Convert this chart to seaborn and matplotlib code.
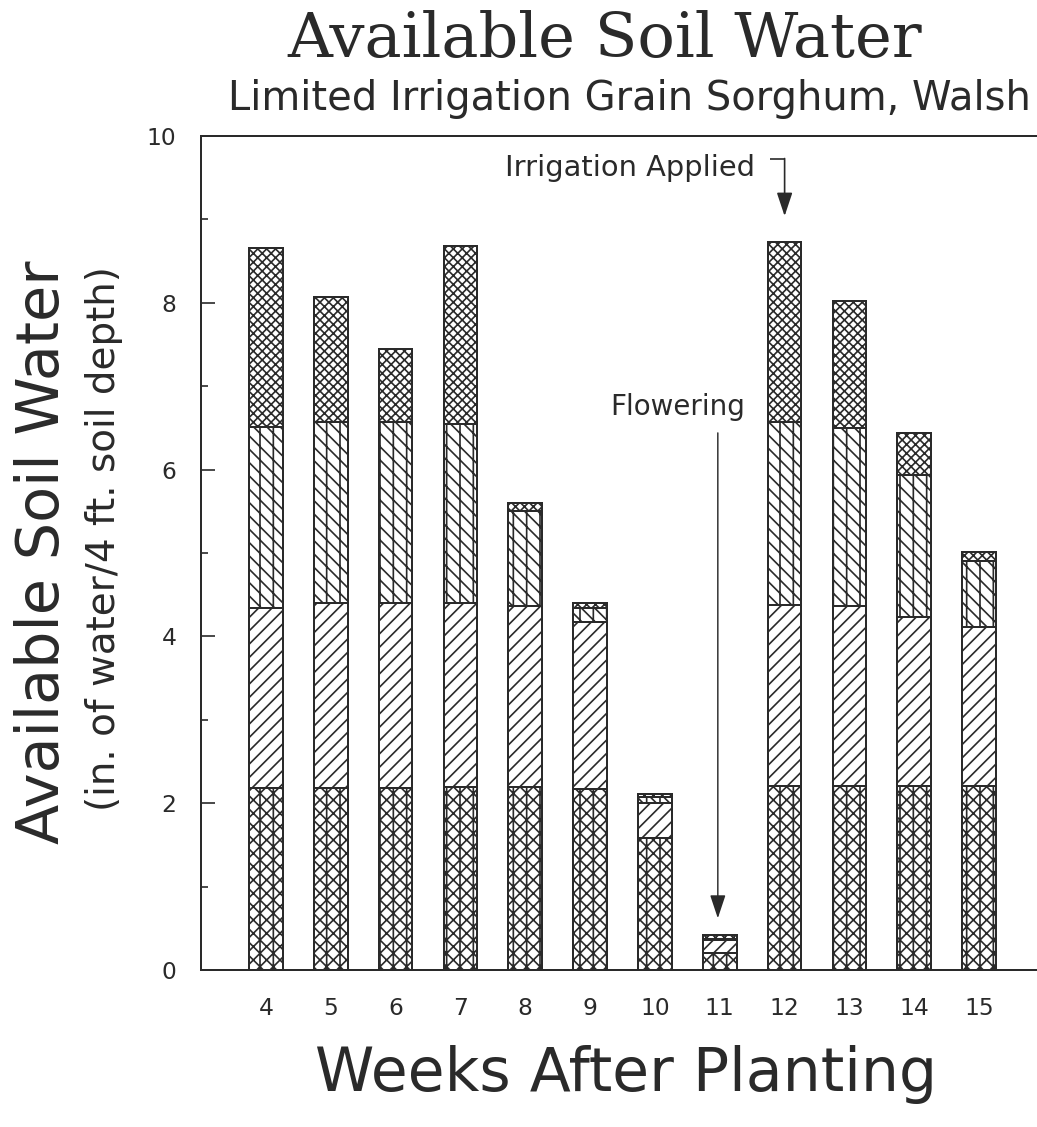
import numpy as np
import pandas as pd
import matplotlib
matplotlib.use("Agg")
import matplotlib.pyplot as plt
import seaborn as sns

# Weeks after planting and available water (inches) held in each foot of soil
weeks = [4, 5, 6, 7, 8, 9, 10, 11, 12, 13, 14, 15]
water_0_1ft = [2.18, 2.18, 2.18, 2.20, 2.20, 2.17, 1.58, 0.20, 2.21, 2.21, 2.21, 2.21]
water_1_2ft = [2.16, 2.22, 2.22, 2.20, 2.17, 2.00, 0.42, 0.16, 2.17, 2.16, 2.02, 1.90]
water_2_3ft = [2.17, 2.17, 2.17, 2.15, 1.13, 0.17, 0.07, 0.01, 2.19, 2.13, 1.71, 0.80]
water_3_4ft = [2.15, 1.50, 0.88, 2.13, 0.10, 0.06, 0.04, 0.05, 2.16, 1.52, 0.50, 0.10]

layer_names = ["0-1 ft", "1-2 ft", "2-3 ft", "3-4 ft"]
layer_hatches = ["xx|", "//", "\\\\|", "xxx"]
yticks = [0, 2, 4, 6, 8, 10]

INK = "#2a2a2a"
DPI = 80
W, H = 1037, 1127

sns.set_theme(style="white")
plt.rcParams["font.family"] = ["DejaVu Sans"]
plt.rcParams["hatch.color"] = INK
plt.rcParams["hatch.linewidth"] = 1.5
plt.rcParams["text.color"] = INK

df = pd.DataFrame({"week": weeks, "0-1 ft": water_0_1ft, "1-2 ft": water_1_2ft,
                   "2-3 ft": water_2_3ft, "3-4 ft": water_3_4ft})
cum = df[layer_names].cumsum(axis=1)

fig = plt.figure(figsize=(W / DPI, H / DPI), dpi=DPI)
fig.patch.set_facecolor("white")
ax = fig.add_axes([201 / W, 157 / H, 843 / W, 834 / H])

# Stack by drawing the cumulative totals from the deepest layer down
for name, hatch in reversed(list(zip(layer_names, layer_hatches))):
    n_before = len(ax.patches)
    sns.barplot(x=df["week"], y=cum[name], native_scale=True, width=0.52,
                color="white", saturation=1, edgecolor=INK, linewidth=1.8,
                errorbar=None, ax=ax)
    for p in ax.patches[n_before:]:
        p.set_hatch(hatch)
        p.set_edgecolor(INK)

ax.set_xlim(3.0, 16.0)
ax.set_ylim(0, 10)
ax.set_xticks(weeks)
ax.set_xticklabels([str(w) for w in weeks])
ax.set_yticks(yticks)
ax.set_yticks([1, 3, 5, 7, 9], minor=True)
ax.set_xlabel("")
ax.set_ylabel("")

for side in ["left", "bottom", "top"]:
    ax.spines[side].set_visible(True)
    ax.spines[side].set_color(INK)
    ax.spines[side].set_linewidth(1.8)
ax.spines["right"].set_visible(False)

ax.tick_params(axis="x", length=0, pad=24, labelsize=21, labelcolor=INK)
ax.tick_params(axis="y", which="major", direction="in", length=12.5, width=1.5,
               color=INK, pad=22, labelsize=21, labelcolor=INK, left=True)
ax.tick_params(axis="y", which="minor", direction="in", length=6.5, width=1.5,
               color=INK, left=True)

# Irrigation marker: bracket from the label down to week 12
ax.plot([11.77, 12.0], [9.72, 9.72], color=INK, lw=1.5, solid_capstyle="butt")
ax.annotate("", xy=(12.0, 9.04), xytext=(12.0, 9.73),
            arrowprops=dict(arrowstyle="-|>,head_length=0.9,head_width=0.3",
                            color=INK, lw=1.5, mutation_scale=20,
                            shrinkA=0, shrinkB=0))
ax.text(11.54, 9.52, "Irrigation Applied", ha="right", va="baseline",
        fontsize=26, color=INK)

# Flowering marker
ax.annotate("", xy=(10.97, 0.62), xytext=(10.97, 6.44),
            arrowprops=dict(arrowstyle="-|>,head_length=0.9,head_width=0.3",
                            color=INK, lw=1.3, mutation_scale=20,
                            shrinkA=0, shrinkB=0))
ax.text(10.35, 6.65, "Flowering", ha="center", va="baseline",
        fontsize=25, color=INK)

def fx(px):
    return px / W

def fy(py):
    return 1 - py / H

fig.text(fx(605), fy(57), "Available Soil Water", ha="center", va="baseline",
         fontsize=56, family="DejaVu Serif", color=INK)
fig.text(fx(629), fy(110), "Limited Irrigation Grain Sorghum, Walsh",
         ha="center", va="baseline", fontsize=36, color=INK)
fig.text(fx(43), fy(552), "Available Soil Water", rotation=90, ha="center",
         va="center", fontsize=53, color=INK)
fig.text(fx(104), fy(539), "(in. of water/4 ft. soil depth)", rotation=90,
         ha="center", va="center", fontsize=35, color=INK)
fig.text(fx(626), fy(1075), "Weeks After Planting", ha="center", va="center",
         fontsize=54, color=INK)

fig.savefig("out.png", dpi=DPI, facecolor="white")
